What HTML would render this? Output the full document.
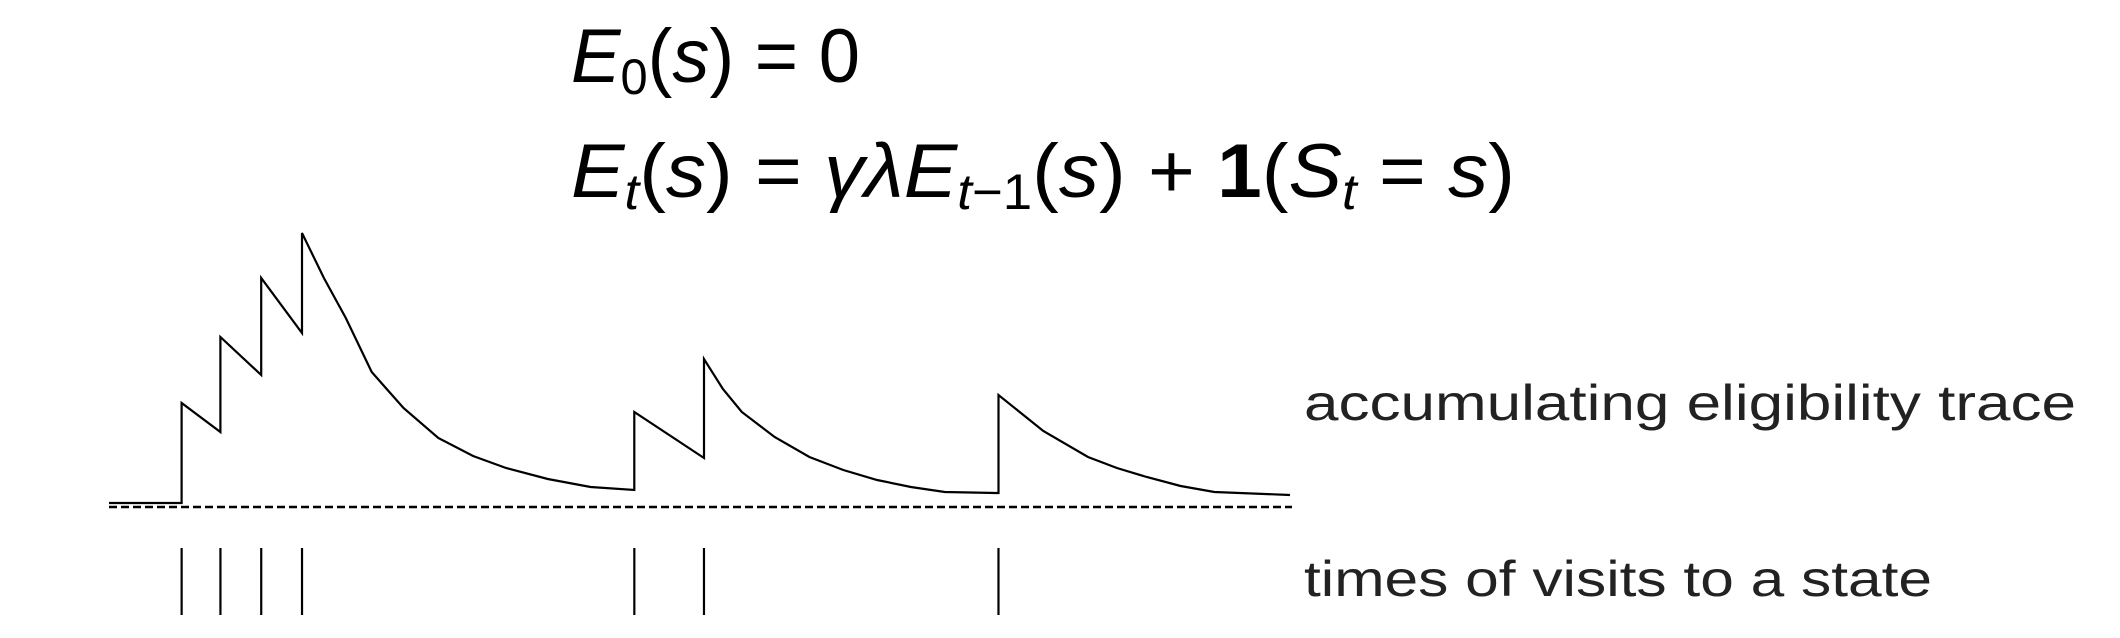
<!DOCTYPE html>
<html><head><meta charset="utf-8"><style>
html,body{margin:0;padding:0;background:#fff;}
svg{display:block;font-family:"Liberation Sans",sans-serif;}
</style></head><body>
<svg width="2120" height="638" viewBox="0 0 2120 638">
  <g fill="#000">
    <text x="571" y="82" font-size="76" textLength="289" lengthAdjust="spacingAndGlyphs"><tspan font-style="italic">E</tspan><tspan font-size="50" dy="12">0</tspan><tspan dy="-12">(</tspan><tspan font-style="italic">s</tspan>) = 0</text>
    <text x="571" y="197" font-size="76" textLength="944" lengthAdjust="spacingAndGlyphs"><tspan font-style="italic">E</tspan><tspan font-size="50" font-style="italic" dy="12">t</tspan><tspan dy="-12">(</tspan><tspan font-style="italic">s</tspan>) = <tspan font-style="italic">γλE</tspan><tspan font-size="50" dy="12"><tspan font-style="italic">t</tspan>−1</tspan><tspan dy="-12">(</tspan><tspan font-style="italic">s</tspan>) + <tspan font-weight="bold">1</tspan>(<tspan font-style="italic">S</tspan><tspan font-size="50" font-style="italic" dy="12">t</tspan><tspan dy="-12"> = </tspan><tspan font-style="italic">s</tspan>)</text>
  </g>
  <g id="chart"></g>
  <text x="1304" y="420" font-size="50" fill="#222" textLength="772" lengthAdjust="spacingAndGlyphs">accumulating eligibility trace</text>
  <text x="1304" y="596" font-size="50" fill="#222" textLength="628" lengthAdjust="spacingAndGlyphs">times of visits to a state</text>
</svg>
<script>
const traceTimes = [109,182,182,221,221,262,262,303,303,325,347,373,405,440,475,508,550,593,637,637,707,707,726,745,778,813,847,881,915,949,1000,1003,1003,1048,1093,1122,1152,1186,1220,1296];
const traceValues = [0,0,1.00,0.71,1.66,1.28,2.25,1.70,2.70,2.25,1.85,1.31,0.95,0.65,0.47,0.35,0.24,0.16,0.13,0.91,0.45,1.44,1.14,0.91,0.66,0.46,0.33,0.23,0.16,0.11,0.10,0.10,1.08,0.72,0.46,0.35,0.26,0.17,0.11,0.08];
const visitTimes = [182,221,262,303,637,707,1003];
const xDomain = [109,1296];

const NS = 'http://www.w3.org/2000/svg';
const chart = document.getElementById('chart');
const X0 = 109, X1 = 1290, BASE = 503, UNIT = 100;
function xs(t){ return X0 + (t - xDomain[0]) / (xDomain[1] - xDomain[0]) * (X1 - X0); }
function ys(v){ return BASE - v * UNIT; }

const base = document.createElementNS(NS,'line');


base.setAttribute('x1', X0); base.setAttribute('x2', X1 + 2);
base.setAttribute('y1', 507); base.setAttribute('y2', 507);
base.setAttribute('stroke', '#000'); base.setAttribute('stroke-width', '2.5');
base.setAttribute('stroke-dasharray', '8 4');
chart.appendChild(base);

const pts = traceTimes.map((t,i) => xs(t).toFixed(1) + ',' + ys(traceValues[i]).toFixed(1)).join(' ');
const line = document.createElementNS(NS,'polyline');


line.setAttribute('points', pts);
line.setAttribute('fill', 'none'); line.setAttribute('stroke', '#000'); line.setAttribute('stroke-width', '2.2');
chart.appendChild(line);

visitTimes.forEach(t => {
  const tk = document.createElementNS(NS,'line');
  
  
  tk.setAttribute('x1', xs(t)); tk.setAttribute('x2', xs(t));
  tk.setAttribute('y1', 548); tk.setAttribute('y2', 615);
  tk.setAttribute('stroke', '#000'); tk.setAttribute('stroke-width', '2.2');
  chart.appendChild(tk);
});
</script>
</body></html>
